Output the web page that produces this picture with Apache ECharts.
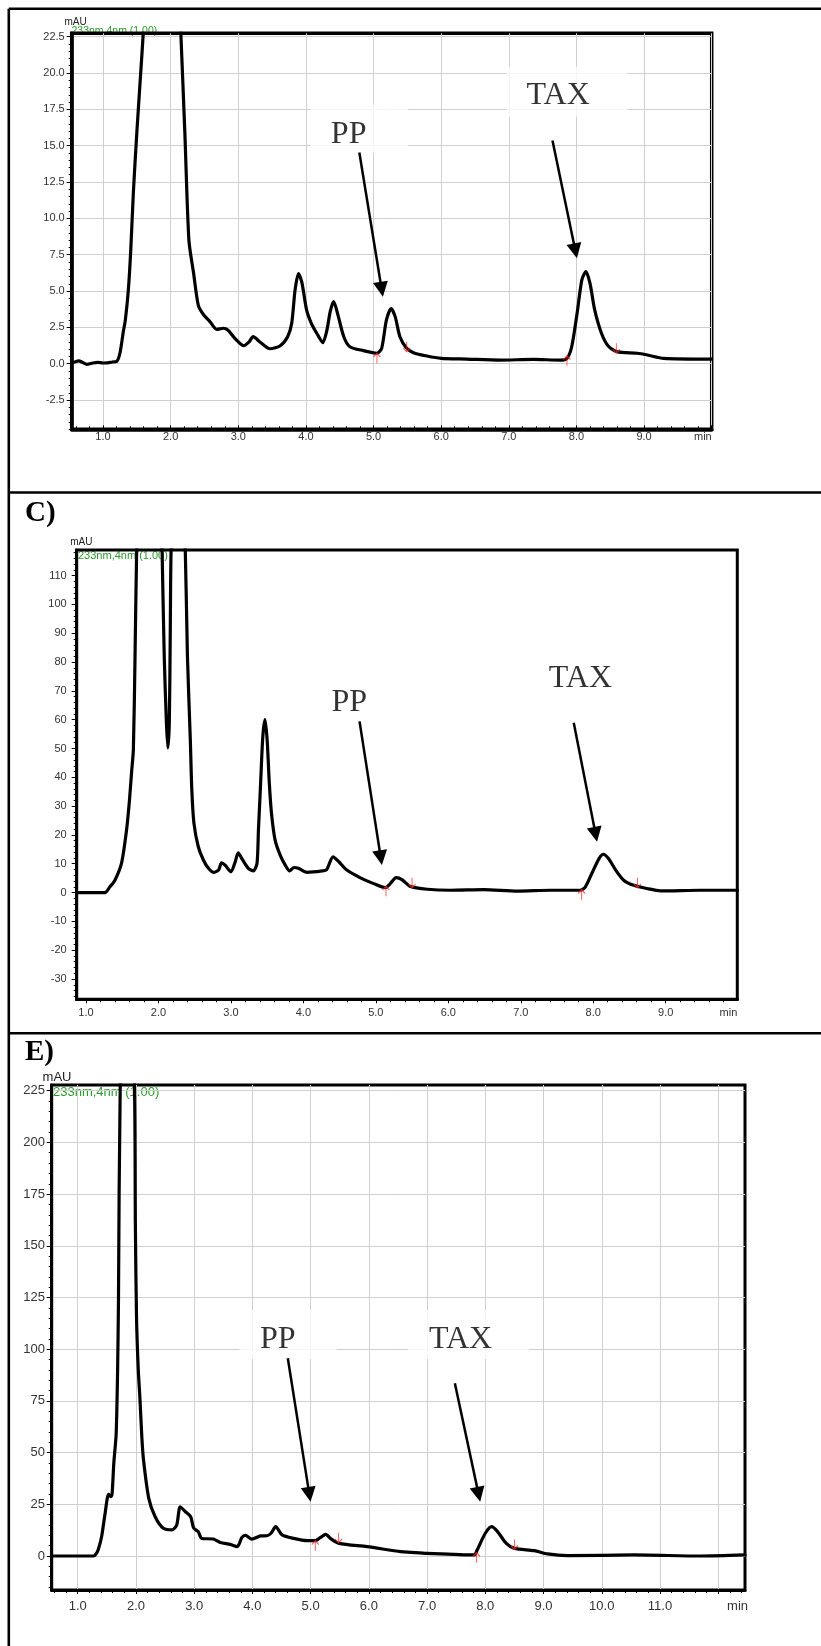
<!DOCTYPE html>
<html><head><meta charset="utf-8">
<script src="https://cdn.jsdelivr.net/npm/echarts@6/dist/echarts.min.js"></script>
<style>html,body{margin:0;padding:0;background:#fff}#c{width:821px;height:1646px}</style>
</head><body><div id="c"></div>
<script>
// ---------- DATA ----------
// Panel A (top)
const timeA = [0.54,0.60,0.64,0.70,0.76,0.85,0.92,1.00,1.07,1.14,1.20,1.25,1.30,1.33,1.375,1.41,1.45,1.50,1.55,1.60,1.75,1.88,2.00,2.10,2.15,2.21,2.27,2.34,2.41,2.49,2.58,2.68,2.78,2.85,2.95,3.08,3.16,3.22,3.32,3.47,3.62,3.73,3.79,3.84,3.89,3.94,4.01,4.08,4.16,4.25,4.31,4.36,4.41,4.48,4.56,4.65,4.85,5.05,5.12,5.19,5.26,5.32,5.39,5.49,5.59,5.79,6.00,6.38,6.87,7.36,7.76,7.86,7.93,8.01,8.08,8.14,8.20,8.27,8.37,8.47,8.60,8.90,9.05,9.29,10.00];
const signalA = [0.03,0.15,0.20,0.08,-0.05,0.05,0.10,0.05,0.06,0.12,0.15,0.72,2.2,3.0,5.1,7.8,11.9,15.9,19.5,23.2,40,48,40,28,22.8,15.9,8.5,6.2,4.0,3.35,2.9,2.37,2.44,2.3,1.75,1.24,1.5,1.86,1.5,1.03,1.24,1.86,2.78,5.08,6.2,5.6,3.7,2.78,2.1,1.45,2.3,3.6,4.27,3.24,1.86,1.17,0.9,0.72,1.06,3.0,3.8,3.24,1.86,1.06,0.76,0.53,0.37,0.32,0.25,0.30,0.25,0.37,1.17,3.47,5.77,6.34,5.54,3.7,2.1,1.22,0.83,0.72,0.60,0.37,0.32];
// Panel C
const timeC = [0.87,1.26,1.33,1.40,1.49,1.56,1.60,1.63,1.654,1.677,1.70,1.80,1.95,2.05,2.08,2.11,2.13,2.15,2.163,2.175,2.27,2.37,2.40,2.44,2.46,2.49,2.55,2.62,2.69,2.76,2.83,2.87,2.92,3.00,3.06,3.10,3.16,3.24,3.31,3.36,3.38,3.41,3.44,3.47,3.50,3.53,3.56,3.61,3.68,3.75,3.81,3.87,3.93,4.05,4.26,4.32,4.41,4.49,4.60,4.78,4.97,5.13,5.20,5.28,5.36,5.47,5.71,6.03,6.49,6.95,7.41,7.82,7.89,7.98,8.08,8.14,8.21,8.31,8.42,8.56,8.74,8.93,9.48,9.99];
const signalC = [0,0,2,4.3,10.1,21.7,32,42,49.6,82,119.3,220,240,119.3,82,59,50.2,59,90,119.3,190,119.3,82,53,36,24,15.9,11.3,8.4,7.0,7.8,10.3,9.5,7.2,10.7,13.8,11.4,8.4,7.5,10.1,21.7,38,54,60,53,38,27.5,18.2,13,9.5,7.5,8.7,8.4,7.0,7.5,7.9,12.4,10.7,7.8,5.2,3.1,1.7,3.1,5.2,4.5,2.2,1.15,0.8,1.0,0.5,0.8,0.8,1.9,6.6,11.8,13.3,11.8,7.8,4.3,2.5,1.4,0.6,0.8,0.8];
// Panel E
const timeE = [0.55,1.27,1.31,1.35,1.41,1.47,1.53,1.57,1.59,1.62,1.66,1.685,1.70,1.73,1.85,1.974,1.99,2.01,2.04,2.07,2.10,2.13,2.22,2.33,2.47,2.62,2.70,2.76,2.85,2.94,2.99,3.07,3.13,3.33,3.45,3.62,3.74,3.82,3.88,3.99,4.14,4.25,4.32,4.40,4.51,4.71,4.94,5.08,5.17,5.26,5.34,5.49,5.97,6.55,6.72,7.00,7.81,7.86,8.00,8.11,8.21,8.36,8.50,8.84,9.07,9.41,10.56,11.70,12.46];
const signalE = [0,0,0.8,2.9,9.3,20.6,29.8,28.7,30,45,59,90,124,227.8,330,227.8,160,115,90,75.4,58,46.4,27.9,19,13.4,12.6,15,23.8,21.4,19,13.6,11.7,8.5,8.2,6.5,5.6,4.5,9.0,10,8.2,9.7,9.8,11,14.2,10.2,8.5,7.4,7.4,9,10.5,8.5,6.1,4.5,2.1,1.8,1.3,0.5,2.9,11,14.2,11.8,6.1,3.7,2.6,1.0,0.2,0.5,0,0.5];

// Integration marks (red arrows): [time, signal]
const startMarksA = [[5.05,0.72],[7.86,0.55]];
const endMarksA   = [[5.49,0.83],[8.59,0.72]];
const startMarksC = [[5.14,2.2],[7.84,1.0]];
const endMarksC   = [[5.50,1.7],[8.61,1.7]];
const startMarksE = [[5.08,7.4],[7.85,1.6]];
const endMarksE   = [[5.48,6.4],[8.50,3.2]];

// Tick labels
const xTicksA = [1,2,3,4,5,6,7,8,9,10];
const xLabelsA = [1,2,3,4,5,6,7,8,9];
const yTicksA = [-2.5,0,2.5,5,7.5,10,12.5,15,17.5,20,22.5];
const xTicksC = [1,2,3,4,5,6,7,8,9];
const xLabelsC = [1,2,3,4,5,6,7,8,9];
const yTicksC = [-30,-20,-10,0,10,20,30,40,50,60,70,80,90,100,110];
const xTicksE = [1,2,3,4,5,6,7,8,9,10,11,12];
const xLabelsE = [1,2,3,4,5,6,7,8,9,10,11];
const yTicksE = [0,25,50,75,100,125,150,175,200,225];

// Peak names
const peakNames = ['PP','TAX'];

// ---------- LAYOUT / STYLE ----------
const SANS = "'Liberation Sans', Arial, Helvetica, sans-serif";
const SERIF = "'Liberation Serif', 'Times New Roman', serif";

const panels = [
  { time: timeA, signal: signalA, starts: startMarksA, ends: endMarksA,
    xTicks: xTicksA, xLabels: xLabelsA, yTicks: yTicksA, yDec: 1,
    grid: {left: 71.7, top: 33.3, width: 640, height: 396},
    x: [0.537, 10.0], y: [-4.51, 22.73], xMinor: 0.2, yMinor: 0.5,
    lw: 3.5, fs: 11, xInside: true, showGrid: true,
    xMargin: 2.5, yMargin: 7, minPad: 1.9, minGap: 0,
    nameGap: 10.6, namePad: 7.6, nameFs: 10,
    boxes: [{c: [4.787, 16.16], size: [98, 48], off: [-10.5, 5.5]},
            {c: [7.857, 18.71], size: [121, 50], off: [-8.6, 4.3]}],
    boxColor: '#fff',
    arrows: [{from: [4.79, 14.53], to: [5.12, 5.12]}, {from: [7.646, 15.36], to: [7.985, 7.76]}] },
  { time: timeC, signal: signalC, starts: startMarksC, ends: endMarksC,
    xTicks: xTicksC, xLabels: xLabelsC, yTicks: yTicksC, yDec: 0,
    grid: {left: 76.7, top: 550, width: 660.6, height: 449.3},
    x: [0.872, 9.988], y: [-37.05, 118.9], xMinor: 0.2, yMinor: 2,
    lw: 3, fs: 11, xInside: false, showGrid: false,
    xMargin: 8.5, yMargin: 10, minPad: 8.5, minGap: 0,
    nameGap: 7.3, namePad: 9.2, nameFs: 10,
    boxes: [{c: [4.633, 65.8], size: [98, 48], off: [0, 0]},
            {c: [7.823, 74.1], size: [121, 50], off: [0, 0]}],
    boxColor: 'rgba(255,255,255,0)',
    arrows: [{from: [4.775, 59.4], to: [5.068, 12.1]}, {from: [7.731, 58.9], to: [8.033, 20.2]}] },
  { time: timeE, signal: signalE, starts: startMarksE, ends: endMarksE,
    xTicks: xTicksE, xLabels: xLabelsE, yTicks: yTicksE, yDec: 0,
    grid: {left: 51.7, top: 1085, width: 693.3, height: 505},
    x: [0.553, 12.46], y: [-16.44, 227.76], xMinor: 0.2, yMinor: 5,
    lw: 3, fs: 13, xInside: false, showGrid: true,
    xMargin: 9.5, yMargin: 6.7, minPad: 9.5, minGap: 3,
    nameGap: 5.7, namePad: 10.6, nameFs: 13,
    boxes: [{c: [4.611, 107.1], size: [97, 49], off: [-10.3, 5.5]},
            {c: [7.709, 107.1], size: [121, 49], off: [-7.8, 5.1]}],
    boxColor: '#fff',
    arrows: [{from: [4.608, 95.6], to: [4.978, 29.8]}, {from: [7.477, 83.5], to: [7.885, 29.8]}] }
];

function minorValues(ext, step) {
  const out = [];
  const k0 = Math.ceil(ext[0] / step - 1e-9), k1 = Math.floor(ext[1] / step + 1e-9);
  for (let k = k0; k <= k1; k++) out.push(+(k * step).toFixed(6));
  return out;
}

const UP = 'path://M5,0 L5,12 M1,4.5 L5,0 L9,4.5';
const DOWN = 'path://M5,12 L5,0 M1,7.5 L5,12 L9,7.5';

const option = {animation: false, backgroundColor: '#fff', grid: [], xAxis: [], yAxis: [], series: [], graphic: []};

panels.forEach((p, i) => {
  option.grid.push(Object.assign({show: true, borderColor: '#000', borderWidth: p.lw, backgroundColor: 'transparent', containLabel: false}, p.grid));
  const gridLine = {show: p.showGrid, lineStyle: {color: '#cfcfcf', width: 1}};
  option.xAxis.push({
    type: 'value', gridIndex: i, min: p.x[0], max: p.x[1], position: 'bottom',
    axisLine: {show: true, onZero: false, lineStyle: {color: '#000', width: p.lw}},
    axisTick: {show: true, inside: p.xInside, length: 4, customValues: p.xTicks, lineStyle: {color: '#000', width: 1}},
    axisLabel: {customValues: p.xLabels, formatter: v => v.toFixed(1), margin: p.xMargin, fontSize: p.fs, color: '#333', fontFamily: SANS},
    splitLine: gridLine,
    name: 'min', nameLocation: 'end', nameGap: p.minGap,
    nameTextStyle: {align: 'right', verticalAlign: 'top', padding: [p.minPad, 0, 0, 0], fontSize: p.fs, color: '#333', fontFamily: SANS}
  });
  option.xAxis.push({
    type: 'value', gridIndex: i, min: p.x[0], max: p.x[1], position: 'bottom',
    axisLine: {show: false, onZero: false},
    axisTick: {show: true, inside: p.xInside, length: 3, customValues: minorValues(p.x, p.xMinor), lineStyle: {color: '#000', width: 1}},
    axisLabel: {show: false}, splitLine: {show: false}
  });
  option.yAxis.push({
    type: 'value', gridIndex: i, min: p.y[0], max: p.y[1], position: 'left',
    axisLine: {show: true, onZero: false, lineStyle: {color: '#000', width: p.lw}},
    axisTick: {show: true, inside: false, length: 5, customValues: p.yTicks, lineStyle: {color: '#000', width: 1}},
    axisLabel: {customValues: p.yTicks, formatter: v => v.toFixed(p.yDec), margin: p.yMargin, fontSize: p.fs, color: '#333', fontFamily: SANS},
    splitLine: gridLine,
    name: 'mAU', nameLocation: 'end', nameGap: p.nameGap,
    nameTextStyle: {align: 'center', verticalAlign: 'middle', padding: [0, 0, 0, p.namePad], fontSize: p.nameFs, color: '#222', fontFamily: SANS}
  });
  option.yAxis.push({
    type: 'value', gridIndex: i, min: p.y[0], max: p.y[1], position: 'left',
    axisLine: {show: false, onZero: false},
    axisTick: {show: true, inside: false, length: 3, customValues: minorValues(p.y, p.yMinor), lineStyle: {color: '#000', width: 1}},
    axisLabel: {show: false}, splitLine: {show: false}
  });
  const xi = 2 * i, yi = 2 * i;
  option.series.push({
    type: 'scatter', xAxisIndex: xi, yAxisIndex: yi, z: 1, silent: true,
    symbol: 'rect',
    data: p.boxes.map((b, k) => ({
      value: b.c, name: peakNames[k], symbolSize: b.size,
      label: {offset: b.off}
    })),
    itemStyle: {color: p.boxColor},
    label: {show: true, position: 'inside', formatter: '{b}', fontFamily: SERIF, fontSize: 32, color: '#000'}
  });
  option.series.push({
    type: 'line', xAxisIndex: xi, yAxisIndex: yi, z: 3, silent: true,
    data: p.time.map((t, k) => [t, p.signal[k]]),
    showSymbol: false, smooth: 0.25,
    lineStyle: {color: '#000', width: 3.2, join: 'round', cap: 'round'},
    markLine: {
      silent: true, symbol: ['none', 'triangle'], symbolSize: 15,
      lineStyle: {color: '#000', width: 2.5, type: 'solid'},
      itemStyle: {color: '#000'},
      label: {show: false}, emphasis: {disabled: true},
      data: p.arrows.map(a => [{coord: a.from, symbol: 'none'}, {coord: a.to, symbol: 'triangle', symbolSize: 15}])
    }
  });
  option.series.push({
    type: 'scatter', xAxisIndex: xi, yAxisIndex: yi, z: 4, silent: true,
    symbol: UP, symbolSize: [7, 10], symbolOffset: [0, 5],
    itemStyle: {color: 'rgba(0,0,0,0)', borderColor: '#ff2a2a', borderWidth: 1.1},
    data: p.starts
  });
  option.series.push({
    type: 'scatter', xAxisIndex: xi, yAxisIndex: yi, z: 4, silent: true,
    symbol: DOWN, symbolSize: [7, 10], symbolOffset: [0, -5],
    itemStyle: {color: 'rgba(0,0,0,0)', borderColor: '#ff2a2a', borderWidth: 1.1},
    data: p.ends
  });
});

const frame = [[8.8, 8.8, 821, 8.8], [8.8, 8.8, 8.8, 1646], [8.8, 492.5, 821, 492.5], [8.8, 1033.3, 821, 1033.3]];
frame.forEach(f => option.graphic.push({type: 'line', silent: true, z: 10, shape: {x1: f[0], y1: f[1], x2: f[2], y2: f[3]}, style: {stroke: '#000', lineWidth: 2.6}}));
const texts = [
  {t: 'C)', x: 25, y: 514, font: 'bold 29px ' + SERIF, fill: '#000'},
  {t: 'E)', x: 25, y: 1053, font: 'bold 29px ' + SERIF, fill: '#000'},
  {t: '233nm,4nm (1.00)', x: 71.5, y: 31, font: '10.5px ' + SANS, fill: '#2a9a2a'},
  {t: '233nm,4nm (1.00)', x: 78, y: 556, font: '11px ' + SANS, fill: '#2a9a2a'},
  {t: '233nm,4nm (1.00)', x: 53, y: 1092, font: '13px ' + SANS, fill: '#2a9a2a'}
];
texts.forEach(s => option.graphic.push({type: 'text', silent: true, z: -1,
  style: {text: s.t, x: s.x, y: s.y, font: s.font, fill: s.fill, align: 'left', verticalAlign: 'middle', textAlign: 'left', textVerticalAlign: 'middle'}}));

const chart = echarts.init(document.getElementById('c'), null, {renderer: 'canvas'});
chart.setOption(option);
</script></body></html>
